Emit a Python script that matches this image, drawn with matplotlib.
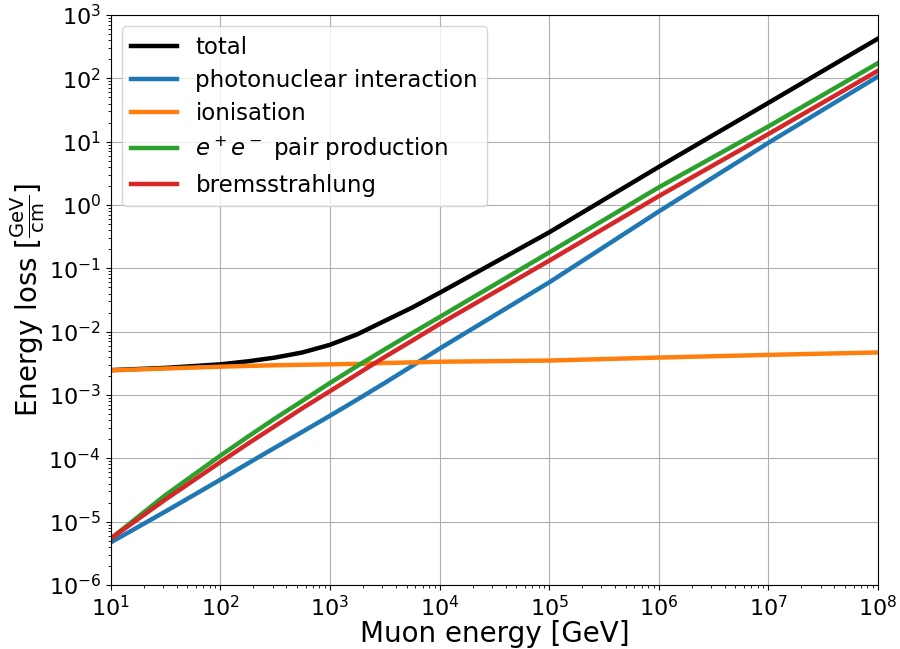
import numpy as np
import matplotlib
matplotlib.use('Agg')
import matplotlib.pyplot as plt

# Muon energy grid [GeV]
energy = [1e1, 3.16e1, 1e2, 1.78e2, 3.16e2, 5.62e2, 1e3, 1.78e3, 3.16e3, 5.62e3,
          1e4, 1e5, 1e6, 1e7, 1e8]

# Energy loss per process [GeV/cm]
total = [2.47e-3, 2.68e-3, 3.05e-3, 3.4e-3, 3.9e-3, 4.7e-3, 6.2e-3, 9.1e-3, 1.48e-2, 2.4e-2,
         4.1e-2, 0.37, 4.0, 41.0, 425]
photonuclear = [4.7e-6, 1.45e-5, 4.6e-5, 8.3e-5, 1.48e-4, 2.63e-4, 4.7e-4, 8.5e-4, 1.55e-3, 2.88e-3,
                5.4e-3, 0.060, 0.79, 9.6, 107]
ionisation = [2.45e-3, 2.62e-3, 2.8e-3, 2.88e-3, 2.95e-3, 3.0e-3, 3.05e-3, 3.1e-3, 3.2e-3, 3.27e-3,
              3.35e-3, 3.5e-3, 3.9e-3, 4.3e-3, 4.7e-3]
pair = [5.4e-6, 2.63e-5, 1.1e-4, 2.19e-4, 4.27e-4, 8.1e-4, 1.55e-3, 2.88e-3, 5.25e-3, 9.5e-3,
        1.7e-2, 0.178, 1.9, 17.4, 174]
brems = [5.4e-6, 2.24e-5, 8.7e-5, 1.7e-4, 3.24e-4, 6.2e-4, 1.15e-3, 2.14e-3, 3.98e-3, 7.2e-3,
         1.32e-2, 0.132, 1.38, 13.2, 132]

fig = plt.figure(figsize=(9, 6.49), dpi=100)
ax = fig.add_axes([0.123, 0.0986, 0.8526, 0.8783])

ax.plot(energy, total, color='black', lw=3.2, label='total')
ax.plot(energy, photonuclear, color='tab:blue', lw=3.2, label='photonuclear interaction')
ax.plot(energy, ionisation, color='tab:orange', lw=3.2, label='ionisation')
ax.plot(energy, pair, color='tab:green', lw=3.2, label=r'$e^+e^-$ pair production')
ax.plot(energy, brems, color='tab:red', lw=3.2, label='bremsstrahlung')

ax.set_xscale('log')
ax.set_yscale('log')
ax.set_xlim(1e1, 1e8)
ax.set_ylim(1e-6, 1e3)
ax.set_xlabel('Muon energy [GeV]', fontsize=20, labelpad=0)
ax.set_ylabel(r'Energy loss [$\frac{\mathrm{GeV}}{\mathrm{cm}}$]', fontsize=20, labelpad=1)
ax.tick_params(labelsize=16)
ax.grid(True)
ax.legend(loc='upper left', fontsize=16.5, labelspacing=0.44)

fig.savefig('out.png', dpi=100)
